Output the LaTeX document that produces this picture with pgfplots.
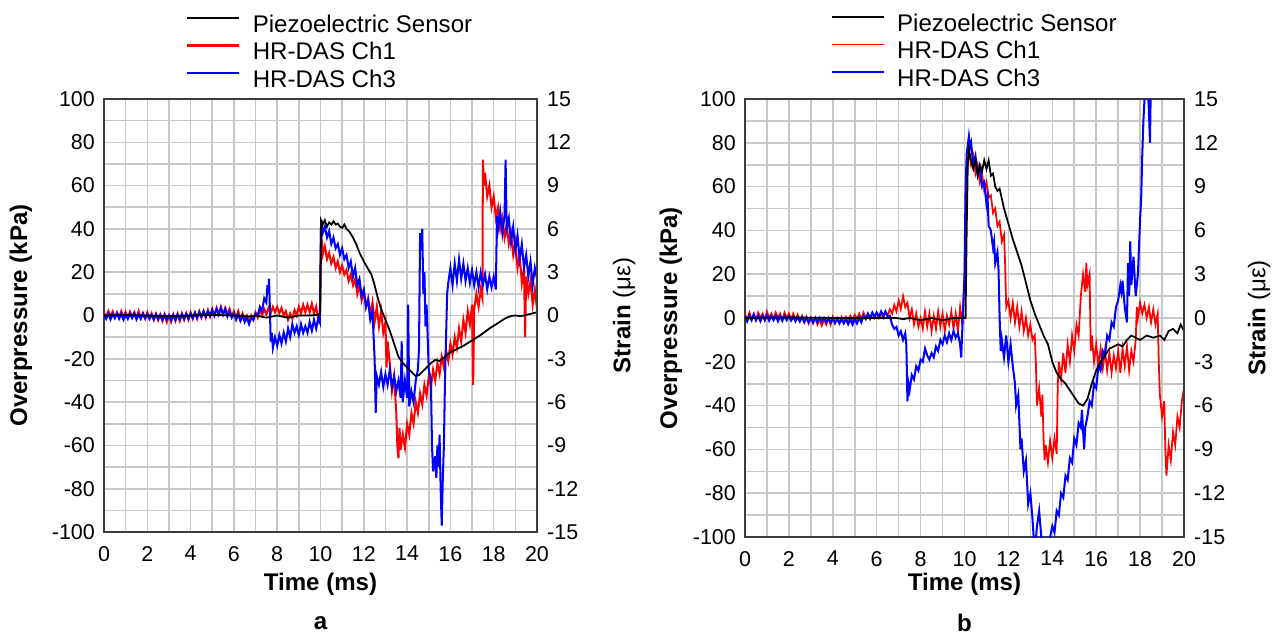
\documentclass[border=0pt]{standalone}
\usepackage{fontspec}
\setmainfont{Liberation Sans}
\usepackage{pgfplots}
\pgfplotsset{compat=1.18}

\definecolor{gridgray}{RGB}{200,200,200}
\definecolor{framegray}{RGB}{60,60,60}

\pgfplotsset{
  panel/.style={
    scale only axis,
    xmin=0, xmax=20, ymin=-100, ymax=100,
    xtick={0,2,...,20}, ytick={-100,-80,...,100},
    minor x tick num=1, minor y tick num=1,
    grid=both, grid style={gridgray, line width=0.9pt},
    major tick length=0pt, minor tick length=0pt,
    axis line style={framegray, line width=1.1pt},
    tick label style={font=\fontsize{12.2}{14}\selectfont},
    /pgf/number format/assume math mode=true,
    label style={font=\bfseries\fontsize{13.7}{16}\selectfont},
    xlabel={Time (ms)}, ylabel={Overpressure (kPa)},
    yticklabel style={xshift=-0.06cm},
    xticklabel style={yshift=-0.16cm},
    legend cell align=left,
    legend image code/.code={\draw[##1] (0cm,0.17cm) -- (1.04cm,0.17cm);},
  },
  strain/.style={
    scale only axis,
    xmin=0, xmax=20, ymin=-15, ymax=15,
    ytick={-15,-12,...,15},
    axis y line*=right, axis x line=none,
    major tick length=0pt,
    axis line style={framegray, line width=1.1pt},
    tick label style={font=\fontsize{12.2}{14}\selectfont},
    /pgf/number format/assume math mode=true,
    label style={font=\fontsize{13.7}{16}\selectfont},
    ylabel={\textbf{Strain} (με)},
    yticklabel style={xshift=0.08cm},
  },
  legbox/.style={
    legend style={at={(axis description cs:#1,1.193)}, anchor=north west,
      draw=none, fill=none, inner sep=0pt, row sep=0.12cm,
      font=\fontsize{13.7}{16}\selectfont,
      nodes={inner sep=0pt, text height=0.33cm, text depth=0.1cm},
      /tikz/every odd column/.append style={column sep=0.25cm}},
  },
}

\begin{document}
\begin{tikzpicture}
\path[use as bounding box] (0,0) rectangle (25.48,-12.72);

% ---------------- panel a ----------------
\begin{axis}[panel, legbox=0.189, name=A,
  at={(2.08cm,-10.64cm)}, anchor=south west, width=8.66cm, height=8.66cm,
  ylabel style={at={(axis description cs:-0.192,0.5)}, anchor=center},
  xlabel style={at={(axis description cs:0.5,-0.12)}, anchor=center}]
\addlegendimage{black, line width=1.1pt}
\addlegendentry{Piezoelectric Sensor}
\addlegendimage{red, line width=1.2pt}
\addlegendentry{HR-DAS Ch1}
\addlegendimage{blue, line width=1.2pt}
\addlegendentry{HR-DAS Ch3}
% HR-DAS Ch1
\addplot[red, line width=1.15pt, forget plot] coordinates {
(0,1.5)(0.1,-1)(0.2,2)(0.3,-0.5)(0.4,1.8)(0.5,-1)(0.6,1.5)(0.7,-0.8)(0.8,2)(0.9,-1)
(1.0,1.6)(1.1,-1.2)(1.2,1.8)(1.3,-0.8)(1.4,1.5)(1.5,-1)(1.6,2)(1.7,-1.2)(1.8,1.2)(1.9,-1.5)
(2.0,1.5)(2.1,-1.5)(2.2,1.0)(2.3,-2)(2.4,0.8)(2.5,-2.2)(2.6,0.5)(2.7,-2.5)(2.8,0.5)(2.9,-3)
(3.0,0)(3.1,-3)(3.2,0.5)(3.3,-2.5)(3.4,0.8)(3.5,-2.5)(3.6,1)(3.7,-2)(3.8,1)(3.9,-2)
(4.0,1.5)(4.1,-1.5)(4.2,1.5)(4.3,-1.5)(4.4,2)(4.5,-1)(4.6,2)(4.7,-1)(4.8,2.5)(4.9,-0.5)
(5.0,3)(5.1,0)(5.2,3.5)(5.3,0.5)(5.4,4)(5.5,0.5)(5.6,3.5)(5.7,0.5)(5.8,3)(5.9,-0.5)
(6.0,2)(6.1,-1)(6.2,2)(6.3,-1.5)(6.4,1)(6.5,-2)(6.6,0)(6.7,-3)(6.8,0)(6.9,-2)
(7.0,1.5)(7.1,-1)(7.2,2.5)(7.3,0)(7.4,3)(7.5,0.5)(7.6,3.5)(7.7,1)(7.8,4)(7.9,1.5)
(8.0,4)(8.1,1)(8.2,3.5)(8.3,0)(8.4,2)(8.5,-2)(8.6,1)(8.7,-1.5)(8.8,2.5)(8.9,0)
(9.0,4)(9.1,1)(9.2,5)(9.3,1.5)(9.4,5)(9.5,1.5)(9.6,5.5)(9.7,1)(9.8,4)(9.9,-2)(9.97,1)
(10.02,30)(10.05,36)(10.1,28)(10.2,32)(10.3,26)(10.4,29)(10.5,24)(10.6,27)(10.7,22)(10.8,25)(10.9,20)
(11.0,23)(11.1,19)(11.2,21)(11.3,16)(11.4,19)(11.5,14)(11.6,17)(11.7,10)(11.8,14)(11.9,7)
(12.0,11)(12.1,4)(12.2,8)(12.3,0)(12.4,6)(12.5,-3)(12.6,4)(12.7,-5)(12.8,2)(12.9,-8)(13.0,-3)
(13.05,-24)(13.1,-12)(13.2,-22)(13.3,-35)(13.4,-28)(13.5,-45)(13.55,-60)(13.6,-66)(13.65,-52)(13.7,-62)
(13.8,-55)(13.9,-61)(14.0,-50)(14.1,-55)(14.2,-45)(14.3,-50)(14.4,-40)(14.5,-45)(14.6,-36)(14.7,-41)
(14.8,-32)(14.9,-37)(15.0,-28)(15.1,-33)(15.2,-25)(15.3,-30)(15.4,-22)(15.5,-27)(15.6,-19)(15.7,-24)
(15.8,-16)(15.9,-21)(16.0,-13)(16.1,-18)(16.2,-10)(16.3,-15)(16.4,-6)(16.5,-12)(16.6,-2)(16.7,-8)
(16.8,2)(16.9,-4)(17.0,5)(17.05,-32)(17.1,3)(17.2,10)(17.3,4)(17.4,12)(17.48,8)
(17.5,72)(17.55,60)(17.6,66)(17.7,55)(17.8,60)(17.9,50)(18.0,55)(18.1,45)(18.2,50)(18.3,40)
(18.4,45)(18.5,36)(18.6,42)(18.7,33)(18.8,38)(18.9,28)(19.0,34)(19.1,22)(19.2,28)(19.3,15)
(19.4,22)(19.45,-10)(19.5,18)(19.6,10)(19.7,16)(19.8,5)(19.9,12)(20,3)
};
% HR-DAS Ch3
\addplot[blue, line width=1.15pt, forget plot] coordinates {
(0,0.5)(0.1,-1.5)(0.2,0.8)(0.3,-1.8)(0.4,0.5)(0.5,-1.2)(0.6,1)(0.7,-1.5)(0.8,0.8)(0.9,-2)
(1.0,0.5)(1.1,-1.5)(1.2,0.8)(1.3,-1.2)(1.4,1)(1.5,-1.8)(1.6,0.5)(1.7,-1.5)(1.8,0.8)(1.9,-1.2)
(2.0,0.5)(2.1,-1.5)(2.2,0.3)(2.3,-1.8)(2.4,0.5)(2.5,-1.5)(2.6,0.2)(2.7,-2)(2.8,0.5)(2.9,-1.8)
(3.0,0)(3.1,-2.2)(3.2,0.2)(3.3,-2)(3.4,0.5)(3.5,-1.8)(3.6,0.5)(3.7,-1.5)(3.8,0.8)(3.9,-1.5)
(4.0,1)(4.1,-1.2)(4.2,1.2)(4.3,-1)(4.4,1.5)(4.5,-0.5)(4.6,2)(4.7,-0.5)(4.8,2)(4.9,0)
(5.0,2.5)(5.1,0)(5.2,3)(5.3,0.5)(5.4,3.5)(5.5,0.5)(5.6,3)(5.7,-0.5)(5.8,2)(5.9,-1)
(6.0,1)(6.1,-2)(6.2,0.5)(6.3,-2.5)(6.4,0)(6.5,-3)(6.6,-1)(6.7,-4)(6.8,-1)(6.9,-2)
(7.0,1)(7.1,0)(7.2,4)(7.3,2)(7.4,8)(7.5,6)(7.55,14)(7.6,10)(7.62,17)(7.65,8)
(7.7,-12)(7.75,-8)(7.8,-15)(7.9,-10)(8.0,-14)(8.1,-9)(8.2,-13)(8.3,-8)(8.4,-12)(8.5,-6)
(8.6,-10)(8.7,-4)(8.8,-8)(8.9,-5)(9.0,-9)(9.1,-4)(9.2,-8)(9.3,-5)(9.4,-8)(9.5,-3)
(9.6,-7)(9.7,-2)(9.8,-6)(9.9,-1)(9.97,-3)
(10.02,40)(10.05,44)(10.1,38)(10.2,41)(10.3,36)(10.4,39)(10.5,33)(10.6,36)(10.7,31)(10.8,33)(10.9,28)
(11.0,31)(11.1,26)(11.2,28)(11.3,22)(11.4,25)(11.5,18)(11.6,22)(11.7,14)(11.8,17)(11.9,9)
(12.0,12)(12.1,4)(12.2,7)(12.3,-2)(12.4,2)(12.5,-20)(12.55,-45)(12.6,-28)(12.7,-32)(12.8,-26)
(12.9,-33)(13.0,-27)(13.1,-32)(13.2,-25)(13.3,-33)(13.4,-28)(13.5,-35)(13.6,-30)(13.7,-38)(13.75,-12)
(13.8,-40)(13.9,-30)(14.0,-38)(14.05,5)(14.1,-42)(14.2,-35)(14.3,-40)(14.4,-30)(14.5,-25)(14.55,-15)
(14.6,38)(14.65,30)(14.7,40)(14.75,10)(14.8,20)(14.85,-5)(14.9,5)(15.0,-25)(15.1,-30)(15.15,-60)
(15.2,-72)(15.3,-65)(15.35,-75)(15.4,-60)(15.45,-70)(15.5,-55)(15.55,-80)(15.6,-97)(15.65,-75)(15.7,-60)
(15.75,-30)(15.8,-10)(15.85,10)(15.9,15)(16.0,22)(16.1,14)(16.2,24)(16.3,16)(16.4,26)(16.5,17)
(16.6,24)(16.7,16)(16.8,22)(16.9,15)(17.0,21)(17.1,14)(17.2,20)(17.3,13)(17.4,20)(17.5,14)
(17.6,19)(17.7,12)(17.8,18)(17.9,13)(18.0,18)(18.1,12)(18.15,46)(18.2,40)(18.3,48)(18.4,38)
(18.5,46)(18.55,72)(18.6,40)(18.7,45)(18.8,34)(18.9,41)(19.0,30)(19.1,37)(19.2,26)(19.3,33)
(19.4,22)(19.5,28)(19.6,18)(19.7,25)(19.8,14)(19.9,22)(20,17)
};
% Piezoelectric sensor
\addplot[black, line width=1.0pt, forget plot] coordinates {
(0,0)(1,0.3)(2,0)(3,-0.3)(4,0)(5,0.3)(6,0)(6.8,-0.5)(7,0)(7.5,-1)(8,0)(8.5,-1)(9,0)(9.5,0)
(9.99,0.5)(10.02,44)(10.1,42)(10.2,44)(10.3,41)(10.4,43)(10.5,42)(10.6,43.5)(10.7,42)(10.8,42.5)
(10.9,41)(11.0,40.5)(11.1,42)(11.2,40)(11.35,38.5)(11.5,36)(11.65,33)(11.8,29)(12.0,25)(12.2,21.5)
(12.35,19)(12.5,14)(12.65,8)(12.8,3)(13.0,-2)(13.2,-7)(13.4,-13)(13.6,-19)(13.8,-22)(14.0,-24)
(14.2,-26)(14.4,-28)(14.55,-27.5)(14.7,-26)(14.9,-24)(15.1,-22)(15.3,-20.5)(15.5,-21)(15.7,-19.5)
(16.0,-17)(16.3,-15.5)(16.6,-14)(17.0,-11.5)(17.4,-9)(17.8,-6)(18.2,-3.5)(18.5,-1.5)(18.8,-0.2)
(19.0,0)(19.2,-0.3)(19.4,0)(19.6,0.5)(19.8,1)(20,1.5)
};
\end{axis}
\begin{axis}[strain,
  at={(2.08cm,-10.64cm)}, anchor=south west, width=8.66cm, height=8.66cm,
  ylabel style={at={(axis description cs:1.201,0.5)}, anchor=center}]
\end{axis}
\node[font=\bfseries\fontsize{13.7}{16}\selectfont] at ([yshift=-1.82cm]A.south) {a};

% ---------------- panel b ----------------
\begin{axis}[panel, legbox=0.194, name=B,
  at={(14.9cm,-10.74cm)}, anchor=south west, width=8.78cm, height=8.76cm,
  ylabel style={at={(axis description cs:-0.169,0.5)}, anchor=center},
  xlabel style={at={(axis description cs:0.5,-0.107)}, anchor=center}]
\addlegendimage{black, line width=1.1pt}
\addlegendentry{Piezoelectric Sensor}
\addlegendimage{red, line width=0.7pt}
\addlegendentry{HR-DAS Ch1}
\addlegendimage{blue, line width=1.2pt}
\addlegendentry{HR-DAS Ch3}
% HR-DAS Ch1
\addplot[red, line width=1.0pt, forget plot] coordinates {
(0,2)(0.1,-1)(0.2,2.5)(0.3,-0.5)(0.4,2)(0.5,-1)(0.6,2.5)(0.7,0)(0.8,2)(0.9,-1)
(1.0,3)(1.1,0)(1.2,2)(1.3,-0.5)(1.4,2.5)(1.5,0)(1.6,2)(1.7,-1)(1.8,2.5)(1.9,0)
(2.0,2)(2.1,-0.5)(2.2,2)(2.3,-1)(2.4,1.5)(2.5,-1.5)(2.6,1)(2.7,-2)(2.8,0.5)(2.9,-2.5)
(3.0,0)(3.1,-2.5)(3.2,0)(3.3,-3)(3.4,-0.5)(3.5,-3.5)(3.6,-0.5)(3.7,-3)(3.8,0)(3.9,-3)
(4.0,0.5)(4.1,-2.5)(4.2,0)(4.3,-2)(4.4,0.5)(4.5,-2)(4.6,0.5)(4.7,-1.5)(4.8,1)(4.9,-1)
(5.0,1.5)(5.1,-0.5)(5.2,2)(5.3,-0.5)(5.4,2.5)(5.5,0)(5.6,2)(5.7,-0.5)(5.8,2)(5.9,0)
(6.0,2.5)(6.1,0)(6.2,2)(6.3,0)(6.4,3)(6.5,1)(6.6,4)(6.7,2)(6.8,6)(6.9,3)
(7.0,8)(7.1,4)(7.2,10)(7.3,5)(7.4,7)(7.5,0)(7.6,4)(7.7,-3)(7.8,2)(7.9,-4)
(8.0,0)(8.1,-5)(8.2,3)(8.3,-4)(8.4,2)(8.5,-6)(8.6,1)(8.7,-5)(8.8,3)(8.9,-4)
(9.0,2)(9.1,-6)(9.2,1)(9.3,-3)(9.4,3)(9.5,-5)(9.6,2)(9.7,-6)(9.8,5)(9.9,-3)(9.95,8)
(10.0,15)(10.05,45)(10.1,65)(10.2,76)(10.3,70)(10.4,74)(10.5,66)(10.6,70)(10.7,62)(10.8,66)
(10.9,58)(11.0,62)(11.1,55)(11.2,56)(11.3,48)(11.4,50)(11.5,42)(11.6,44)(11.7,35)(11.8,38)
(11.85,25)(11.9,5)(12.0,8)(12.1,0)(12.2,7)(12.3,-2)(12.4,5)(12.5,-4)(12.6,3)(12.7,-6)
(12.8,0)(12.9,-8)(13.0,-3)(13.1,-10)(13.2,-8)(13.25,-20)(13.3,-40)(13.4,-32)(13.5,-45)(13.55,-35)
(13.6,-55)(13.65,-65)(13.7,-58)(13.8,-66)(13.9,-56)(14.0,-64)(14.1,-55)(14.2,-62)(14.25,-30)(14.3,-20)
(14.4,-28)(14.5,-16)(14.6,-25)(14.7,-12)(14.8,-20)(14.9,-8)(15.0,-15)(15.1,-3)(15.2,-8)(15.3,10)
(15.4,20)(15.5,12)(15.55,25)(15.6,15)(15.7,20)(15.75,-15)(15.8,-8)(15.9,-20)(16.0,-12)(16.1,-22)
(16.2,-14)(16.3,-23)(16.4,-15)(16.5,-24)(16.6,-16)(16.7,-25)(16.8,-17)(16.9,-23)(17.0,-15)(17.1,-25)
(17.2,-14)(17.3,-22)(17.4,-13)(17.5,-24)(17.6,-15)(17.7,-20)(17.8,-10)(17.85,5)(17.9,0)(18.0,7)
(18.1,2)(18.2,6)(18.3,0)(18.4,5)(18.5,-2)(18.6,4)(18.7,-3)(18.8,2)(18.85,-20)(18.9,-35)
(19.0,-45)(19.1,-38)(19.15,-60)(19.2,-72)(19.3,-58)(19.4,-65)(19.5,-52)(19.6,-58)(19.7,-45)(19.8,-50)
(19.9,-38)(20,-32)
};
% HR-DAS Ch3
\addplot[blue, line width=1.15pt, forget plot] coordinates {
(0,1)(0.1,-1.5)(0.2,1)(0.3,-1)(0.4,1.5)(0.5,-1)(0.6,1)(0.7,-1.5)(0.8,1)(0.9,-1)
(1.0,1.2)(1.1,-1.2)(1.2,1)(1.3,-1)(1.4,1)(1.5,-1.5)(1.6,0.8)(1.7,-1.2)(1.8,1)(1.9,-1)
(2.0,0.8)(2.1,-1.2)(2.2,0.5)(2.3,-1.5)(2.4,0.5)(2.5,-1.5)(2.6,0.3)(2.7,-1.8)(2.8,0.2)(2.9,-1.8)
(3.0,0)(3.1,-2)(3.2,0)(3.3,-1.8)(3.4,0.2)(3.5,-1.5)(3.6,0)(3.7,-2)(3.8,0)(3.9,-2)
(4.0,-0.2)(4.1,-2.2)(4.2,-0.3)(4.3,-2.5)(4.4,-0.5)(4.5,-2.5)(4.6,-0.5)(4.7,-2.8)(4.8,-0.5)(4.9,-3)
(5.0,-0.5)(5.1,-2.5)(5.2,0)(5.3,-2)(5.4,1)(5.5,-0.5)(5.6,2)(5.7,0)(5.8,2.5)(5.9,0.5)
(6.0,2.5)(6.1,0.5)(6.2,3)(6.3,1)(6.4,3)(6.5,0.5)(6.6,1)(6.7,-3)(6.8,-5)(6.9,-4)
(7.0,-8)(7.1,-6)(7.2,-10)(7.3,-7)(7.35,-12)(7.4,-38)(7.45,-30)(7.5,-33)(7.6,-26)(7.7,-28)
(7.8,-22)(7.9,-24)(8.0,-19)(8.1,-20)(8.2,-14)(8.3,-17)(8.4,-19)(8.5,-16)(8.6,-18)(8.7,-13)
(8.8,-15)(8.9,-10)(9.0,-12)(9.1,-8)(9.2,-11)(9.3,-7)(9.4,-10)(9.5,-6)(9.6,-9)(9.7,-7)
(9.8,-12)(9.85,-18)(9.9,-5)(10.0,20)(10.05,60)(10.1,75)(10.2,83)(10.25,78)(10.3,80)(10.4,70)
(10.5,74)(10.6,66)(10.7,68)(10.8,60)(10.9,62)(11.0,52)(11.05,55)(11.1,42)(11.2,40)(11.3,32)
(11.35,35)(11.4,25)(11.5,30)(11.55,22)(11.6,0)(11.65,-15)(11.7,-10)(11.8,-18)(11.9,-8)(12.0,-20)
(12.1,-12)(12.2,-22)(12.3,-30)(12.35,-40)(12.45,-35)(12.55,-60)(12.6,-55)(12.7,-70)(12.8,-65)(12.9,-85)
(13.0,-80)(13.1,-92)(13.15,-100)(13.2,-108)(13.3,-95)(13.4,-88)(13.5,-100)(13.6,-110)(13.8,-110)(13.9,-100)
(14.0,-95)(14.1,-98)(14.2,-88)(14.3,-90)(14.4,-80)(14.5,-82)(14.6,-72)(14.7,-74)(14.8,-64)(14.9,-66)
(15.0,-55)(15.1,-58)(15.2,-48)(15.3,-50)(15.35,-42)(15.45,-60)(15.5,-50)(15.6,-45)(15.7,-38)(15.8,-40)
(15.9,-30)(16.0,-32)(16.1,-22)(16.2,-24)(16.3,-15)(16.4,-17)(16.5,-8)(16.6,-10)(16.7,-2)(16.8,-4)
(16.9,5)(17.0,8)(17.1,15)(17.15,12)(17.2,17)(17.3,5)(17.4,-2)(17.45,25)(17.5,10)(17.55,35)
(17.6,15)(17.7,28)(17.8,10)(17.9,20)(18.0,45)(18.05,55)(18.1,75)(18.15,90)(18.2,100)(18.25,108)
(18.35,105)(18.4,95)(18.45,80)(18.5,115)(20,120)
};
% Piezoelectric sensor
\addplot[black, line width=1.0pt, forget plot] coordinates {
(0,0)(2,0.3)(4,0)(6,0)(6.9,0)(7.2,-0.5)(7.5,0)(8,-1)(8.5,0)(9,-1)(9.5,0)(10.05,0)
(10.1,40)(10.15,70)(10.2,77)(10.3,72)(10.4,68)(10.5,72)(10.6,65)(10.7,70)(10.8,67)(10.9,72)
(11.0,68)(11.1,72)(11.2,65)(11.3,66)(11.4,60)(11.5,58)(11.6,59)(11.8,50)(12.0,43)(12.2,36)
(12.4,30)(12.6,24)(12.8,16)(13.0,8)(13.2,2)(13.4,-3)(13.6,-8)(13.8,-12)(14.0,-20)(14.2,-25)
(14.4,-28)(14.6,-30)(14.8,-33)(15.0,-36)(15.2,-39)(15.4,-40)(15.6,-37)(15.8,-30)(16.0,-24)
(16.2,-20)(16.4,-17)(16.6,-14)(16.8,-13)(17.0,-12)(17.2,-13)(17.4,-10)(17.6,-8)(17.8,-9)
(18.0,-10)(18.3,-8)(18.6,-9)(18.9,-8)(19.1,-10)(19.3,-6)(19.5,-5)(19.7,-7)(19.85,-3)(20,-6)
};
\end{axis}
\begin{axis}[strain,
  at={(14.9cm,-10.74cm)}, anchor=south west, width=8.78cm, height=8.76cm,
  ylabel style={at={(axis description cs:1.171,0.5)}, anchor=center}]
\end{axis}
\node[font=\bfseries\fontsize{13.7}{16}\selectfont] at ([yshift=-1.72cm]B.south) {b};
\end{tikzpicture}
\end{document}
